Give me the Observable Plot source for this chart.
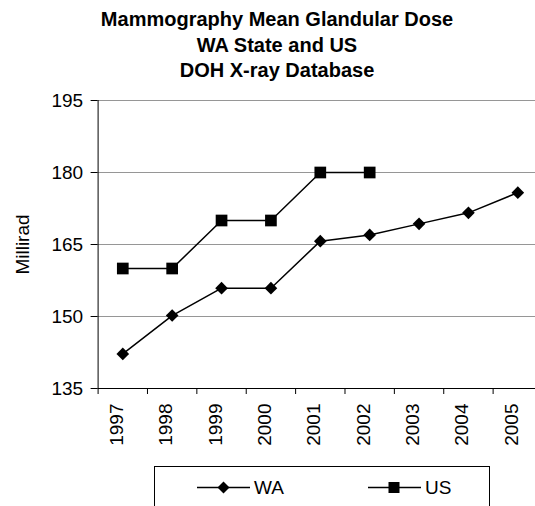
<!DOCTYPE html>
<html>
<head>
<meta charset="utf-8">
<script src="https://cdn.jsdelivr.net/npm/d3@7"></script>
<script src="https://cdn.jsdelivr.net/npm/@observablehq/plot@0.6"></script>
<style>
  html, body { margin: 0; padding: 0; background: #fff; width: 535px; height: 506px; overflow: hidden; }
  #wrap { position: relative; width: 535px; height: 506px; overflow: hidden; font-family: "Liberation Sans", Arial, sans-serif; }
  #title { position: absolute; left: 0; top: 7px; width: 554px; text-align: center; font-weight: bold; font-size: 20px; line-height: 25.5px; color: #000; }
  #chart { position: absolute; left: 0; top: 0; width: 545px; height: 506px; }
  #chart svg { max-width: none !important; width: 545px; height: 506px; }
  #legend { position: absolute; left: 154px; top: 466px; width: 334px; height: 60px; border: 1px solid #000; background: #fff; }
  .item { position: absolute; top: 9px; height: 24px; font-size: 19px; line-height: 24px; }
  .item svg { position: absolute; left: 0; top: 0; }
  .item span { position: absolute; top: 0; }
</style>
</head>
<body>
<div id="wrap">
  <div id="chart"></div>
  <div id="title">Mammography Mean Glandular Dose<br>WA State and US<br>DOH X-ray Database</div>
  <div id="legend"></div>
</div>
<script>
const years = [1997, 1998, 1999, 2000, 2001, 2002, 2003, 2004, 2005];
const waValues = [142.2, 150.2, 155.9, 155.9, 165.7, 167.0, 169.3, 171.6, 175.8];
const usYears = [1997, 1998, 1999, 2000, 2001, 2002];
const usValues = [160, 160, 170, 170, 180, 180];
const yTicks = [135, 150, 165, 180, 195];
const seriesNames = ["WA", "US"];
const yLabel = "Millirad";

const wa = years.map((y, i) => ({year: y, value: waValues[i]}));
const us = usYears.map((y, i) => ({year: y, value: usValues[i]}));
const xDomain = [years[0] - 0.5, years[years.length - 1] + 0.5];
const boundaries = [...years.map(y => y - 0.5), xDomain[1]];

const chart = Plot.plot({
  width: 545,
  height: 506,
  marginTop: 100,
  marginBottom: 118,
  marginLeft: 97.6,
  marginRight: 3,
  x: {domain: xDomain},
  y: {domain: [yTicks[0], yTicks[yTicks.length - 1]]},
  style: {fontFamily: "'Liberation Sans', Arial, sans-serif", fontSize: "19px", background: "transparent", color: "#000", maxWidth: "none"},
  marks: [
    Plot.gridY(yTicks.slice(1), {stroke: "#969696", strokeOpacity: 1}),
    Plot.axisY({ticks: yTicks, tickSize: 7, tickPadding: 8, label: null, stroke: "#000", fontSize: 19}),
    Plot.ruleX([xDomain[0]], {stroke: "#000"}),
    Plot.ruleY([yTicks[0]], {stroke: "#000"}),
    Plot.axisX({ticks: boundaries, tickFormat: () => "", tickSize: 6, label: null, stroke: "#000"}),
    Plot.text(years, {x: d => d, text: d => String(d), frameAnchor: "bottom", rotate: -90, textAnchor: "end", dy: 15, fontSize: 19, fill: "#000"}),
    Plot.text([yLabel], {frameAnchor: "left", rotate: -90, textAnchor: "middle", dx: -75, fontSize: 19, fill: "#000"}),
    Plot.line(us, {x: "year", y: "value", stroke: "#000", strokeWidth: 1.5}),
    Plot.line(wa, {x: "year", y: "value", stroke: "#000", strokeWidth: 1.5}),
    Plot.dot(us, {x: "year", y: "value", symbol: "square", r: 6.6, fill: "#000", stroke: "none"}),
    Plot.dot(wa, {x: "year", y: "value", symbol: "diamond2", r: 5.7, fill: "#000", stroke: "none"})
  ]
});
document.getElementById("chart").appendChild(chart);

// Legend
const legend = document.getElementById("legend");
const items = [
  {name: seriesNames[0], left: 42, symbol: "diamond"},
  {name: seriesNames[1], left: 213, symbol: "square"}
];
for (const it of items) {
  const div = document.createElement("div");
  div.className = "item";
  div.style.left = it.left + "px";
  const marker = it.symbol === "diamond"
    ? `<path d="M26.5,5.5L32.5,11.5L26.5,17.5L20.5,11.5Z" fill="#000"/>`
    : `<rect x="20.5" y="6" width="11" height="11" fill="#000"/>`;
  div.innerHTML = `<svg width="60" height="24"><line x1="0" x2="53" y1="11.5" y2="11.5" stroke="#000" stroke-width="1.5"/>${marker}</svg><span style="left:57px">${it.name}</span>`;
  legend.appendChild(div);
}
</script>
</body>
</html>
